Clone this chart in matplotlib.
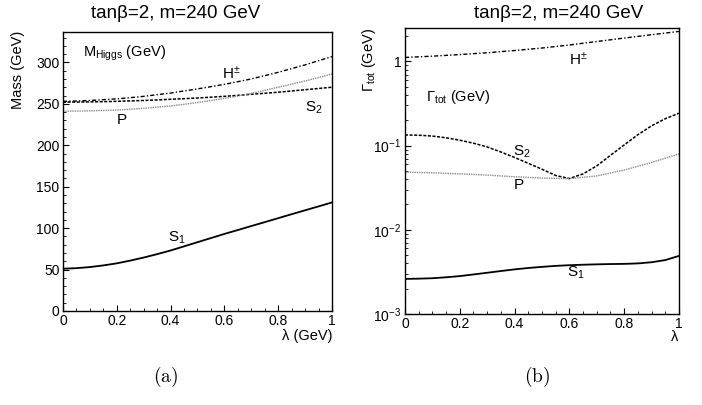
import numpy as np
import matplotlib
matplotlib.use("Agg")
import matplotlib.pyplot as plt
from matplotlib.ticker import MultipleLocator, FixedLocator, FixedFormatter, LogLocator, NullFormatter

plt.rcParams['font.family'] = ['Liberation Sans', 'DejaVu Sans']
plt.rcParams['mathtext.fontset'] = 'custom'
plt.rcParams['mathtext.rm'] = 'Liberation Sans'
plt.rcParams['mathtext.it'] = 'Liberation Sans'
plt.rcParams['mathtext.bf'] = 'Liberation Sans:bold'

# (a) masses vs lambda
lam_a = [0.0, 0.05, 0.1, 0.15, 0.2, 0.25, 0.3, 0.35, 0.4, 0.45, 0.5,
         0.55, 0.6, 0.65, 0.7, 0.75, 0.8, 0.85, 0.9, 0.95, 1.0]
mass_Hpm = [253, 253.4, 254, 255, 256, 257.4, 259, 261, 263, 265.5, 268,
            270.7, 273.5, 276.7, 280, 284, 288, 292.5, 297, 302, 307]
mass_S2 = [252, 252.1, 252.3, 252.6, 253, 253.5, 254, 254.7, 255.5, 256.2, 257,
           258, 259, 260.2, 261.5, 262.7, 264, 265.5, 267, 268.5, 270]
mass_P = [241, 241.2, 241.5, 242, 242.5, 243.4, 244.5, 246, 247.5, 249.4, 251.5,
          254, 256.5, 259.5, 262.5, 266.2, 270, 273.7, 277.5, 281.7, 286]
mass_S1 = [51, 51.7, 53, 55, 57.5, 60.8, 64.5, 68.6, 73, 78, 83,
           88, 93, 97.7, 102.5, 107.2, 112, 116.8, 121.5, 126.2, 131]

# (b) total widths vs lambda
lam_b = [0.0, 0.1, 0.2, 0.3, 0.4, 0.5, 0.6, 0.7, 0.8, 0.9, 1.0]
gam_Hpm = [1.117, 1.156, 1.208, 1.27, 1.35, 1.445, 1.57, 1.726, 1.897, 2.08, 2.275]
gam_P = [0.0484, 0.0476, 0.0462, 0.0447, 0.0427, 0.0412, 0.0405, 0.0437, 0.0513, 0.0631, 0.080]
lam_b2 = [0.0, 0.05, 0.1, 0.15, 0.2, 0.25, 0.3, 0.35, 0.4, 0.45, 0.5,
          0.55, 0.6, 0.65, 0.7, 0.75, 0.8, 0.85, 0.9, 0.95, 1.0]
gam_S2 = [0.134, 0.133, 0.130, 0.124, 0.116, 0.107, 0.0966, 0.0841, 0.0724, 0.0617, 0.0525,
          0.0442, 0.0407, 0.0462, 0.0575, 0.0767, 0.102, 0.135, 0.172, 0.209, 0.243]
gam_S1 = [0.00261, 0.00263, 0.00266, 0.00273, 0.00282, 0.00295, 0.00309, 0.00324, 0.00339, 0.00352, 0.00363,
          0.00373, 0.0038, 0.00385, 0.00389, 0.00392, 0.00394, 0.00399, 0.00412, 0.00437, 0.0049]

title = 'tanβ=2, m=240 GeV'
xticks = [0, 0.2, 0.4, 0.6, 0.8, 1.0]
xticklabels = ['0', '0.2', '0.4', '0.6', '0.8', '1']

fig = plt.figure(figsize=(7.02, 4.05), dpi=100)
axa = fig.add_axes([0.0897, 0.2321, 0.3832, 0.6896])
axb = fig.add_axes([0.5769, 0.2247, 0.3903, 0.7062])

hpm_style = dict(color='black', lw=1.0, ls=(0, (3, 1.5, 1, 1.5)))
s2_style = dict(color='black', lw=1.1, ls=(0, (2, 1)))
p_style = dict(color='#888888', lw=1.0, ls=(0, (1, 0.7)))
s1_style = dict(color='black', lw=1.3, ls='-')

# panel (a)
axa.plot(lam_a, mass_Hpm, **hpm_style)
axa.plot(lam_a, mass_S2, **s2_style)
axa.plot(lam_a, mass_P, **p_style)
axa.plot(lam_a, mass_S1, **s1_style)
axa.set_xlim(0, 1)
axa.set_ylim(0, 337)
axa.xaxis.set_major_locator(FixedLocator(xticks))
axa.xaxis.set_major_formatter(FixedFormatter(xticklabels))
axa.xaxis.set_minor_locator(MultipleLocator(0.05))
axa.yaxis.set_major_locator(MultipleLocator(50))
axa.yaxis.set_minor_locator(MultipleLocator(10))

axa.text(0.074, 311, r'M$_{\mathrm{Higgs}}$ (GeV)', fontsize=10.5, ha='left', va='center')
axa.text(0.625, 286, r'H$^{\pm}$', fontsize=11, ha='center', va='center')
axa.text(0.933, 245, r'S$_2$', fontsize=11, ha='center', va='center')
axa.text(0.22, 230.6, 'P', fontsize=11, ha='center', va='center')
axa.text(0.424, 88, r'S$_1$', fontsize=11, ha='center', va='center')

fig.text(176 / 702, 1 - 13 / 405, title, fontsize=13.5, ha='center', va='center')
fig.text(18 / 702, 1 - 31 / 405, 'Mass (GeV)', fontsize=10.5, rotation=90, ha='center', va='top')
fig.text(332 / 702, 1 - 336 / 405, 'λ (GeV)', fontsize=10.5, ha='right', va='center')

# panel (b)
axb.plot(lam_b, gam_Hpm, **hpm_style)
axb.plot(lam_b2, gam_S2, **s2_style)
axb.plot(lam_b, gam_P, **p_style)
axb.plot(lam_b2, gam_S1, **s1_style)
axb.set_yscale('log')
axb.set_xlim(0, 1)
axb.set_ylim(1e-3, 2.5)
axb.xaxis.set_major_locator(FixedLocator(xticks))
axb.xaxis.set_major_formatter(FixedFormatter(xticklabels))
axb.xaxis.set_minor_locator(MultipleLocator(0.05))
axb.yaxis.set_major_locator(FixedLocator([1e-3, 1e-2, 1e-1, 1]))
axb.yaxis.set_major_formatter(FixedFormatter([r'$10^{-3}$', r'$10^{-2}$', r'$10^{-1}$', '1']))
axb.yaxis.set_minor_locator(LogLocator(base=10, subs=np.arange(2, 10), numticks=20))
axb.yaxis.set_minor_formatter(NullFormatter())

axb.text(0.631, 1.05, r'H$^{\pm}$', fontsize=11, ha='center', va='center')
axb.text(0.077, 0.38, r'$\Gamma_{\mathrm{tot}}$ (GeV)', fontsize=10.5, ha='left', va='center')
axb.text(0.427, 0.0844, r'S$_2$', fontsize=11, ha='center', va='center')
axb.text(0.416, 0.0342, 'P', fontsize=11, ha='center', va='center')
axb.text(0.624, 0.00308, r'S$_1$', fontsize=11, ha='center', va='center')

fig.text(559 / 702, 1 - 13 / 405, title, fontsize=13.5, ha='center', va='center')
fig.text(369 / 702, 1 - 28 / 405, r'$\Gamma_{\mathrm{tot}}$ (GeV)', fontsize=10.5, rotation=90, ha='center', va='top')
fig.text(678 / 702, 1 - 337 / 405, 'λ', fontsize=10.5, ha='right', va='center')

for ax in (axa, axb):
    ax.tick_params(which='both', direction='in', top=False, right=False, labelsize=10)
    ax.tick_params(which='major', length=4, width=0.8, pad=2.5)
    ax.tick_params(which='minor', length=2, width=0.6)
    for sp in ax.spines.values():
        sp.set_linewidth(1.0)

fig.text(166 / 702, 1 - 377 / 405, r'$\mathrm{(a)}$', fontsize=14, ha='center', va='center',
         math_fontfamily='cm')
fig.text(537 / 702, 1 - 377 / 405, r'$\mathrm{(b)}$', fontsize=14, ha='center', va='center',
         math_fontfamily='cm')

fig.savefig('out.png', dpi=100)
